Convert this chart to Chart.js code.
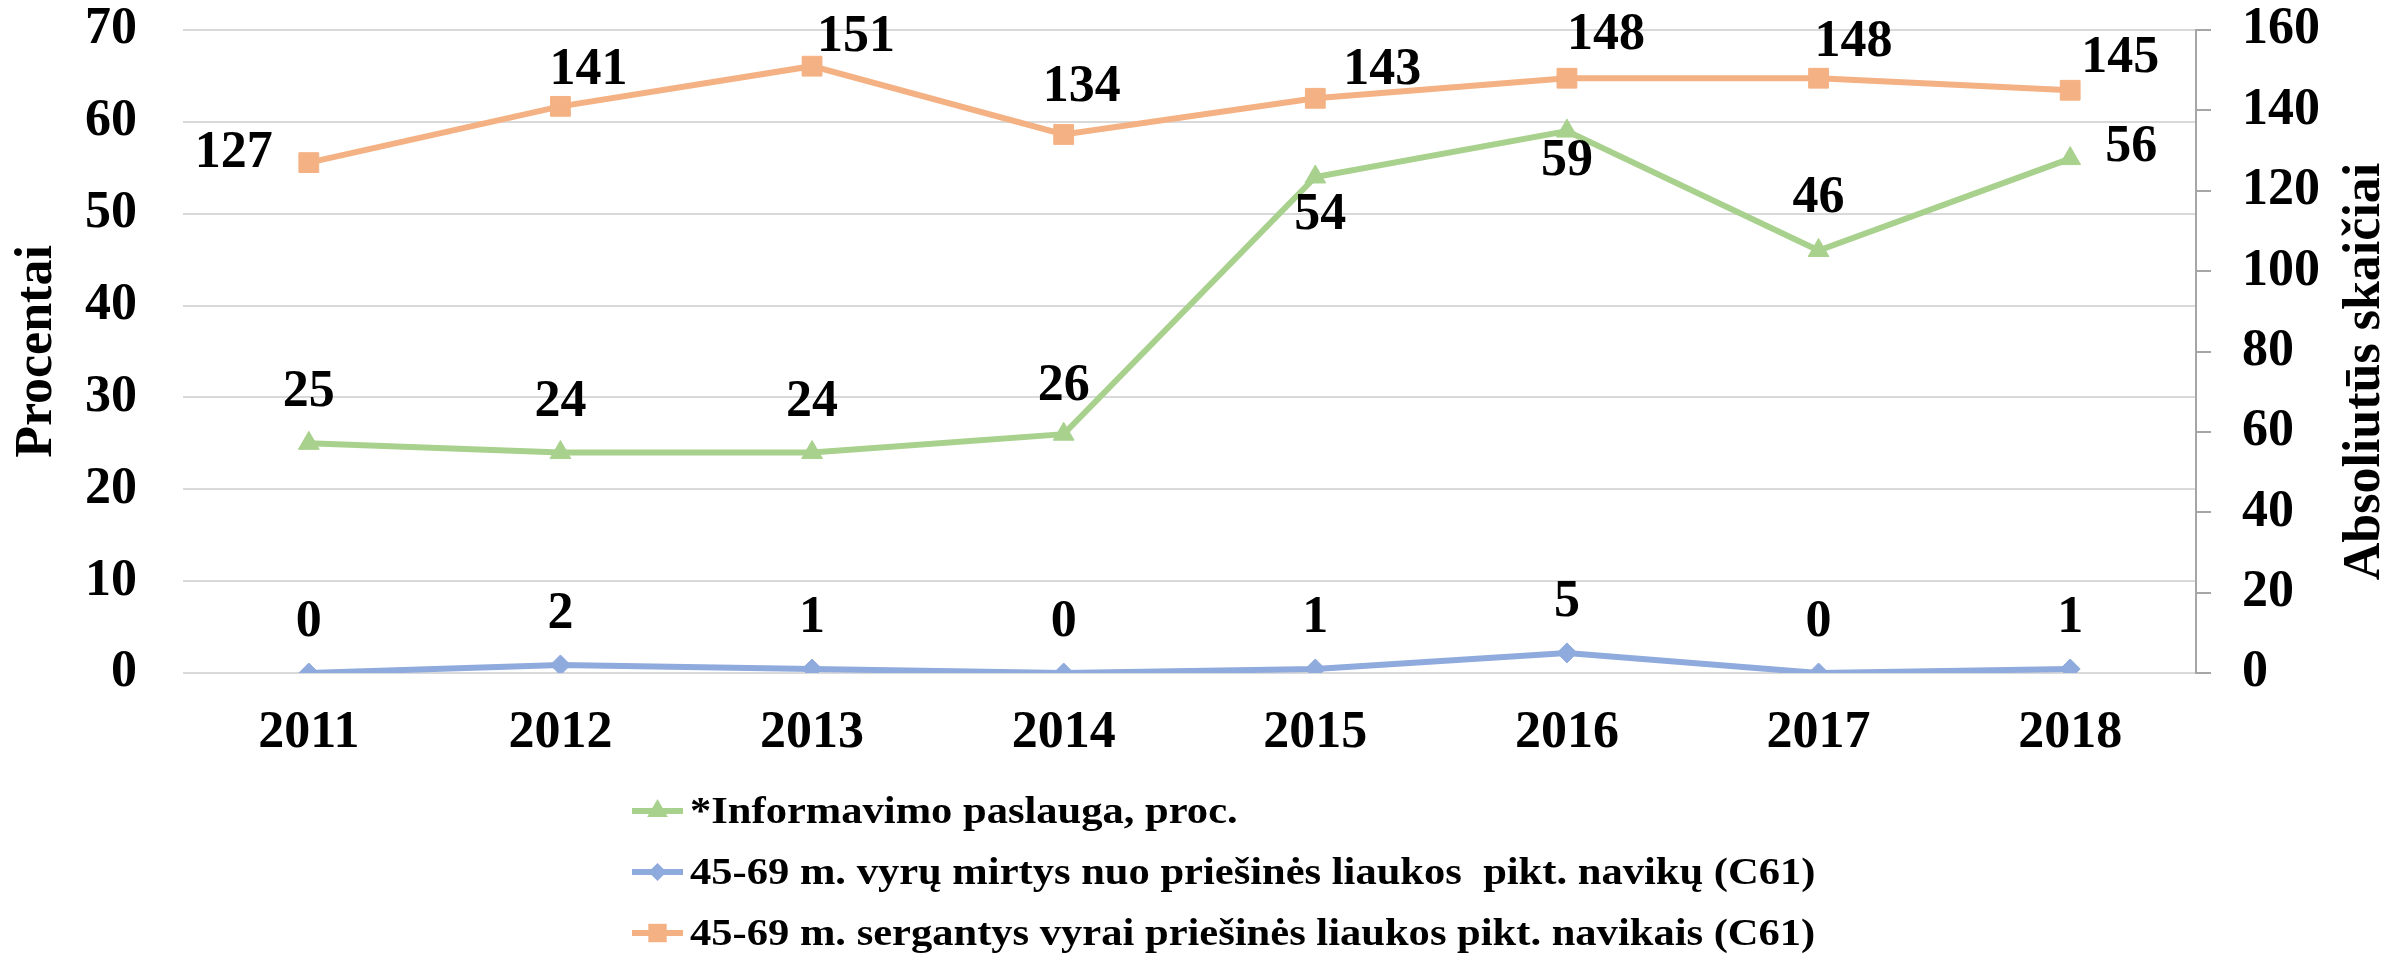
<!DOCTYPE html>
<html>
<head>
<meta charset="utf-8">
<script src="https://cdn.jsdelivr.net/npm/chart.js@4/dist/chart.umd.min.js"></script>
<style>
html,body{margin:0;padding:0;background:#fff;}
canvas{display:block;}
</style>
</head>
<body>
<canvas id="c" width="2408" height="954"></canvas>
<script>
// ---------- data ----------
const years = ['2011','2012','2013','2014','2015','2016','2017','2018'];
const informavimoProc = [25, 24, 24, 26, 54, 59, 46, 56];        // left axis, %
const mirtys = [0, 2, 1, 0, 1, 5, 0, 1];                          // right axis, abs.
const sergantys = [127, 141, 151, 134, 143, 148, 148, 145];       // right axis, abs.
const seriesNames = [
  '*Informavimo paslauga, proc.',
  '45-69 m. vyrų mirtys nuo priešinės liaukos  pikt. navikų (C61)',
  '45-69 m. sergantys vyrai priešinės liaukos pikt. navikais (C61)'
];
const leftAxisTitle = 'Procentai';
const rightAxisTitle = 'Absoliutūs skaičiai';

// ---------- style ----------
const FAMILY = '"Liberation Serif", "Times New Roman", serif';
const GREEN = '#A9D18E', BLUE = '#8FAADC', ORANGE = '#F4B183';
Chart.defaults.font.family = FAMILY;
Chart.defaults.color = '#000';

const bigFont = {family: FAMILY, size: 52, weight: 'bold', lineHeight: 1.15};

function drawMarker(ctx, style, x, y, r) {
  ctx.beginPath();
  if (style === 'triangle') {
    ctx.moveTo(x, y - r);
    ctx.lineTo(x + r * 0.866, y + r * 0.5);
    ctx.lineTo(x - r * 0.866, y + r * 0.5);
  } else if (style === 'rectRot') {
    ctx.moveTo(x, y - r); ctx.lineTo(x + r, y); ctx.lineTo(x, y + r); ctx.lineTo(x - r, y);
  } else {
    const s = r * Math.SQRT1_2;
    ctx.rect(x - s, y - s, 2 * s, 2 * s);
  }
  ctx.closePath();
  ctx.fill();
}

const valueLabels = {
  id: 'valueLabels',
  afterDatasetsDraw(chart) {
    const ctx = chart.ctx;
    ctx.save();
    ctx.font = `bold 52px ${FAMILY}`;
    ctx.fillStyle = '#000';
    ctx.textAlign = 'center';
    ctx.textBaseline = 'middle';
    chart.data.datasets.forEach((ds, i) => {
      const meta = chart.getDatasetMeta(i);
      meta.data.forEach((pt, j) => {
        const off = ds.labelOffsets[j];
        ctx.fillText(String(ds.data[j]), pt.x + off[0], pt.y + off[1]);
      });
    });
    ctx.restore();
  }
};

const customLegend = {
  id: 'customLegend',
  afterDraw(chart) {
    const ctx = chart.ctx;
    ctx.save();
    const x0 = 632, lineLen = 51, y0 = 811, rowH = 61;
    chart.data.datasets.forEach((ds, i) => {
      const y = y0 + i * rowH;
      ctx.strokeStyle = ds.borderColor;
      ctx.lineWidth = 6;
      ctx.beginPath();
      ctx.moveTo(x0, y); ctx.lineTo(x0 + lineLen, y);
      ctx.stroke();
      ctx.fillStyle = ds.borderColor;
      drawMarker(ctx, ds.pointStyle, x0 + lineLen / 2, y, ds.legendMarkerRadius);
      ctx.fillStyle = '#000';
      ctx.font = `bold 37px ${FAMILY}`;
      ctx.textAlign = 'left';
      ctx.textBaseline = 'middle';
      ctx.save();
      ctx.translate(x0 + lineLen + 7, y + 2);
      ctx.scale(1.15, 1);
      ctx.fillText(ds.label, 0, 0);
      ctx.restore();
    });
    // right axis title, reading bottom-to-top
    const ca = chart.chartArea;
    ctx.save();
    ctx.translate(chart.width - 42, (ca.top + ca.bottom) / 2 + 20);
    ctx.rotate(-Math.PI / 2);
    ctx.font = `bold 52px ${FAMILY}`;
    ctx.fillStyle = '#000';
    ctx.textAlign = 'center';
    ctx.textBaseline = 'middle';
    ctx.fillText(rightAxisTitle, 0, 0);
    ctx.restore();
    ctx.restore();
  }
};

new Chart(document.getElementById('c'), {
  type: 'line',
  data: {
    labels: years,
    datasets: [
      {
        label: seriesNames[0], data: informavimoProc, yAxisID: 'y',
        borderColor: GREEN, backgroundColor: GREEN, borderWidth: 6,
        pointStyle: 'triangle', pointRadius: 12, pointBackgroundColor: GREEN, pointBorderColor: GREEN, pointBorderWidth: 1,
        legendMarkerRadius: 12,
        labelOffsets: [[0,-51],[0,-50],[0,-50],[0,-48],[5,39],[0,31],[0,-52],[61,-11]]
      },
      {
        label: seriesNames[1], data: mirtys, yAxisID: 'y1',
        borderColor: BLUE, backgroundColor: BLUE, borderWidth: 6,
        pointStyle: 'rectRot', pointRadius: 10, pointBackgroundColor: BLUE, pointBorderColor: BLUE, pointBorderWidth: 1,
        legendMarkerRadius: 9,
        labelOffsets: [[0,-50],[0,-50],[0,-50],[0,-50],[0,-50],[0,-50],[0,-50],[0,-50]]
      },
      {
        label: seriesNames[2], data: sergantys, yAxisID: 'y1',
        borderColor: ORANGE, backgroundColor: ORANGE, borderWidth: 6,
        pointStyle: 'rect', pointRadius: 14, pointBackgroundColor: ORANGE, pointBorderColor: ORANGE, pointBorderWidth: 1,
        legendMarkerRadius: 13,
        labelOffsets: [[-75,-9],[28,-36],[44,-29],[18,-47],[67,-28],[39,-43],[35,-36],[50,-32]]
      }
    ]
  },
  options: {
    responsive: false,
    devicePixelRatio: 1,
    animation: false,
    layout: {padding: {top: 30, left: 0, right: 0, bottom: 0}},
    plugins: {
      legend: {display: false},
      tooltip: {enabled: false}
    },
    elements: {line: {tension: 0}},
    scales: {
      x: {
        offset: true,
        grid: {display: false, drawTicks: false},
        border: {display: false},
        ticks: {padding: 31, font: bigFont, color: '#000', maxRotation: 0, autoSkip: false},
        afterFit(s) { s.height = 281; }
      },
      y: {
        position: 'left', min: 0, max: 70,
        ticks: {stepSize: 10, padding: 46, font: bigFont, color: '#000'},
        grid: {color: '#d9d9d9', lineWidth: 2, drawTicks: false},
        border: {display: false},
        title: {display: true, text: leftAxisTitle, color: '#000',
                font: {family: FAMILY, size: 52, weight: 'bold', lineHeight: 1.2},
                padding: {top: 6, bottom: 0}},
        afterFit(s) { s.width = 183; s.paddingTop = 0; s.paddingBottom = 0; }
      },
      y1: {
        position: 'right', min: 0, max: 160,
        ticks: {stepSize: 20, padding: 31, font: bigFont, color: '#000'},
        grid: {drawOnChartArea: false, drawTicks: true, tickLength: 15, color: '#a6a6a6', lineWidth: 2},
        border: {display: true, color: '#a6a6a6', width: 2},
        afterFit(s) { s.width = 212; s.paddingTop = 0; s.paddingBottom = 0; }
      }
    }
  },
  plugins: [valueLabels, customLegend]
});
</script>
</body>
</html>
